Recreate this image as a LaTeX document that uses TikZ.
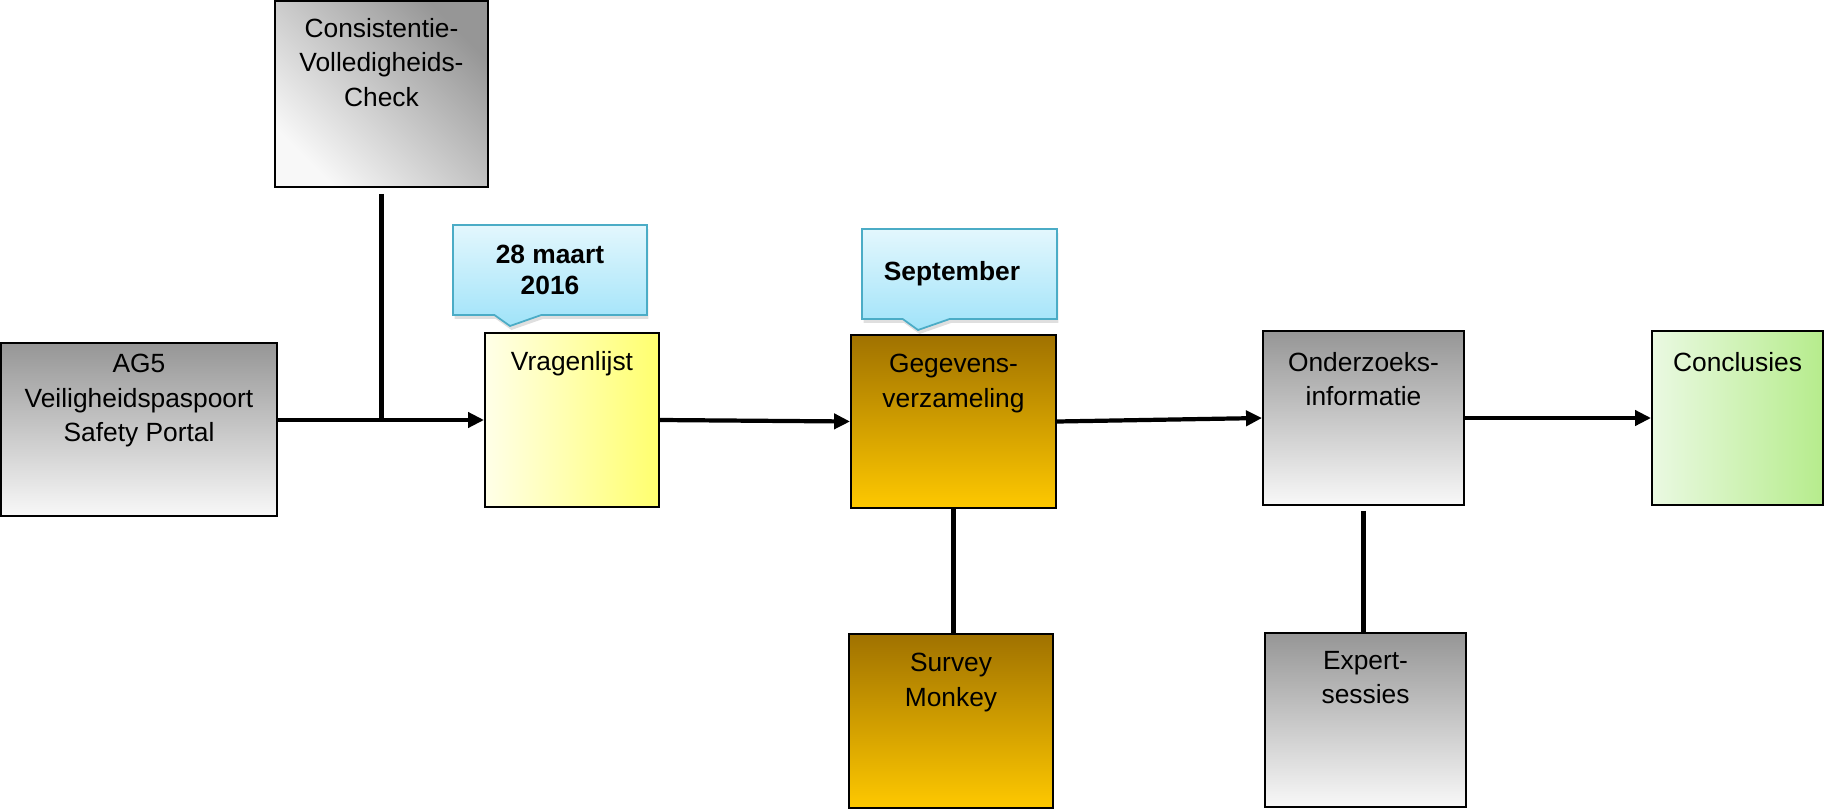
\documentclass[tikz,border=0pt]{standalone}
\usepackage{fontspec}
\setmainfont{Liberation Sans}
\usepackage{tikz}
\usetikzlibrary{positioning,shapes.callouts,shadows}
\usetikzlibrary{arrows.meta}
\tikzset{>={Triangle[width=3mm,length=3.2mm]}}
\definecolor{callline}{RGB}{75,172,198}
\definecolor{calltop}{RGB}{227,247,253}
\definecolor{callbot}{RGB}{160,227,249}
\definecolor{graytop}{RGB}{150,150,150}
\definecolor{graybot}{RGB}{248,248,248}
\definecolor{browntop}{RGB}{160,114,0}
\definecolor{brownbot}{RGB}{254,200,0}
\definecolor{yelleft}{RGB}{255,255,232}
\definecolor{yelright}{RGB}{255,255,110}
\definecolor{grnleft}{RGB}{234,249,226}
\definecolor{grnright}{RGB}{182,236,140}

\begin{document}
\begin{tikzpicture}[x=0.02cm, y=-0.02cm, font=\fontsize{15}{19.5}\selectfont]
      \tikzstyle{rnode} = [draw=black, rectangle, line width=1.1pt, inner sep=0pt]
      \tikzstyle{tnode} = [inner sep=0pt, align=center]
      \tikzstyle{graybox} = [rnode, top color=graytop, bottom color=graybot]
      \tikzstyle{brownbox} = [rnode, top color=browntop, bottom color=brownbot]
      \tikzstyle{datenode} = [rectangle callout, draw=callline, line width=1pt,
        top color=calltop, bottom color=callbot, inner sep=0pt, align=center,
        minimum height=1.8cm, callout pointer width=0.94cm,
        font=\fontsize{15}{17.5}\selectfont\bfseries,
        drop shadow={shadow xshift=0.03cm, shadow yshift=-0.08cm, opacity=0.25}]
      \tikzstyle{conn} = [black, line width=2.4pt]

      \useasboundingbox (0,0) rectangle (1825,811);

      % boxes
      \node[graybox, minimum width=5.52cm, minimum height=3.46cm] (ag5) at (139,429.5) {};
      \node[rnode, minimum width=4.26cm, minimum height=3.72cm,
        top color=graytop, bottom color=graybot, shading angle=-45] (cons) at (381.5,94) {};
      \node[rnode, minimum width=3.48cm, minimum height=3.48cm,
        left color=yelleft, right color=yelright] (vrag) at (572,420) {};
      \node[brownbox, minimum width=4.10cm, minimum height=3.46cm] (geg) at (953.5,421.5) {};
      \node[graybox, minimum width=4.02cm, minimum height=3.48cm] (onder) at (1363.5,418) {};
      \node[rnode, minimum width=3.42cm, minimum height=3.48cm,
        left color=grnleft, right color=grnright] (concl) at (1737.5,418) {};
      \node[brownbox, minimum width=4.08cm, minimum height=3.48cm] (survey) at (951,721) {};
      \node[graybox, minimum width=4.02cm, minimum height=3.48cm] (expert) at (1365.5,720) {};

      % texts
      \node[tnode, below=0.24cm of ag5.north] (ag5T) {AG5\\ Veiligheidspaspoort\\ Safety Portal};
      \node[tnode, below=0.36cm of cons.north] (consT) {Consistentie-\\ Volledigheids-\\ Check};
      \node[tnode, below=0.38cm of vrag.north] (vragT) {Vragenlijst};
      \node[tnode, below=0.40cm of geg.north] (gegT) {Gegevens-\\ verzameling};
      \node[tnode, below=0.44cm of onder.north] (onderT) {Onderzoeks-\\ informatie};
      \node[tnode, below=0.44cm of concl.north] (conclT) {Conclusies};
      \node[tnode, below=0.40cm of survey.north] (surveyT) {Survey\\ Monkey};
      \node[tnode, below=0.38cm of expert.north] (expertT) {Expert-\\ sessies};

      % dates
      \node[datenode, minimum width=3.88cm, callout absolute pointer={(510,326)}] (datum) at (550,270) {28 maart\\ 2016};
      \node[datenode, minimum width=3.90cm, callout absolute pointer={(918,330)}] (sept) at (959.5,274) {\hspace*{-0.3cm}September};

      % connectors
      \coordinate (jct) at (cons.south |- vrag.west);
      \draw[conn] ([yshift=-0.12cm]cons.south) -- (jct);
      \draw[conn,->] (ag5.east |- vrag.west) -- (vrag.west);
      \draw[conn,->] (vrag.east) -- (geg.west);
      \draw[conn,->] (geg.east) -- (onder.west);
      \draw[conn,->] (onder.east) -- (concl.west);
      \draw[conn] (geg.south) -- (geg.south |- survey.north);
      \draw[conn] ([yshift=-0.1cm]onder.south) -- (onder.south |- expert.north);
\end{tikzpicture}
\end{document}
